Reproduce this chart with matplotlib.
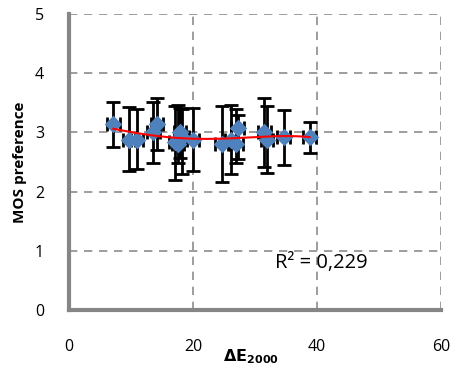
import numpy as np
import matplotlib
matplotlib.use('Agg')
from matplotlib import pyplot as plt

plt.rcParams['font.family'] = ['Open Sans', 'DejaVu Sans']

# delta E 2000 values and MOS preference scores
de2000 = [7.15, 9.7, 11.0, 13.6, 14.2, 17.1, 17.6, 17.9, 18.3, 20.0,
          24.6, 26.1, 27.0, 27.2, 31.5, 31.9, 34.6, 38.8]
mos = [3.14, 2.88, 2.88, 3.01, 3.14, 2.84, 2.80, 3.01, 2.92, 2.87,
       2.80, 2.88, 2.80, 3.08, 3.01, 2.88, 2.92, 2.92]
mos_hi = [3.52, 3.43, 3.39, 3.52, 3.58, 3.44, 3.46, 3.42, 3.40, 3.41,
          3.45, 3.46, 3.39, 3.30, 3.58, 3.45, 3.38, 3.17]
mos_lo = [2.76, 2.34, 2.39, 2.49, 2.70, 2.20, 2.48, 2.56, 2.30, 2.34,
          2.17, 2.30, 2.48, 2.55, 2.42, 2.31, 2.45, 2.66]
de_err = [1.0] * len(de2000)
r2_text = 'R² = 0,229'

x = np.array(de2000)
y = np.array(mos)
yerr = [y - np.array(mos_lo), np.array(mos_hi) - y]

fig = plt.figure(figsize=(4.54, 3.74), dpi=100)
ax = fig.add_axes([69/454, 64/374, 372/454, 296/374])

ax.errorbar(x, y, yerr=yerr, xerr=de_err, fmt='none', ecolor='black',
            elinewidth=2, capsize=5, capthick=2, zorder=3)
ax.scatter(x, y, marker='D', s=80, color='#4F81BD', zorder=4, linewidths=0)

coef = np.polyfit(x, y, 4)
xs = np.linspace(x.min(), x.max(), 200)
ax.plot(xs, np.polyval(coef, xs), color='red', lw=1.5, zorder=5)

ax.text(33.2, 0.80, r2_text, fontsize=14.5, va='center', ha='left')

ax.set_xlim(0, 60)
ax.set_ylim(0, 5)
ax.set_xticks([0, 20, 40, 60])
ax.set_yticks([0, 1, 2, 3, 4, 5])
ax.grid(True, color='#8c8c8c', linestyle=(0, (5, 4)), lw=1.2)
for s in ['top', 'right']:
    ax.spines[s].set_visible(False)
for s in ['left', 'bottom']:
    ax.spines[s].set_color('#868686')
    ax.spines[s].set_linewidth(3)
ax.tick_params(length=0, labelsize=11.5)
ax.tick_params(axis='x', pad=21)
ax.tick_params(axis='y', pad=18)

ax.set_ylabel('MOS preference', fontsize=11, fontweight='bold', labelpad=6)
ax.text(29.3, -0.78, r'$\mathbf{\Delta E_{2000}}$', fontsize=11.5, ha='center', va='center',
        clip_on=False)

fig.savefig('out.png', dpi=100)
